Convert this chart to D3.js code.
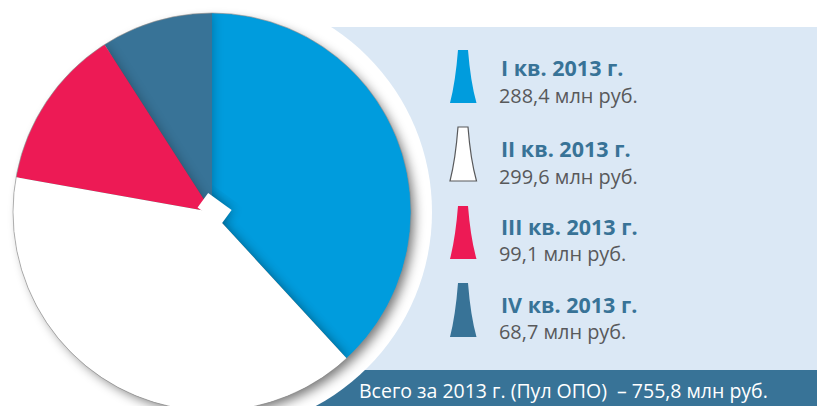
<!DOCTYPE html>
<html><head><meta charset="utf-8">
<script src="https://cdn.jsdelivr.net/npm/d3@7"></script>
<style>html,body{margin:0;padding:0;background:#fff}svg{display:block}text{font-family:"Open Sans",sans-serif}</style>
</head><body><div id="c"></div>
<script>
const quarters=["I кв. 2013 г.","II кв. 2013 г.","III кв. 2013 г.","IV кв. 2013 г."];
const values=[288.4,299.6,99.1,68.7];
const valueLabels=["288,4 млн руб.","299,6 млн руб.","99,1 млн руб.","68,7 млн руб."];
const colors=["#009cdd","#ffffff","#ed1a55","#387397"];
const totalLabel="Всего за 2013 г. (Пул ОПО)  – 755,8 млн руб.";

const W=817,H=406,cx=212,cy=212,R=199;
const svg=d3.select("#c").append("svg").attr("width",W).attr("height",H);
const defs=svg.append("defs");
const f=defs.append("filter").attr("id","blur").attr("x","-30%").attr("y","-30%").attr("width","160%").attr("height","160%");
f.append("feGaussianBlur").attr("stdDeviation",6);
const sb=defs.append("filter").attr("id","soft").attr("x","-50%").attr("y","-50%").attr("width","200%").attr("height","200%");
sb.append("feGaussianBlur").attr("stdDeviation",6);
defs.append("clipPath").attr("id","disc").append("circle").attr("cx",cx).attr("cy",cy).attr("r",R);
const ring=defs.append("clipPath").attr("id","ringClip");
ring.append("circle").attr("cx",cx).attr("cy",cy).attr("r",220);

// panel and band
svg.append("rect").attr("x",320).attr("y",27).attr("width",W-320).attr("height",343).attr("fill","#dbe8f5");
svg.append("rect").attr("x",300).attr("y",370).attr("width",W-300).attr("height",36).attr("fill","#387397");
svg.append("circle").attr("cx",cx).attr("cy",cy).attr("r",220).attr("fill","#fff");
svg.append("g").attr("clip-path","url(#ringClip)")
  .append("circle").attr("cx",cx+5).attr("cy",cy+5).attr("r",R-2).attr("fill","#000").attr("opacity",0.55).attr("filter","url(#blur)");

// pie
const arcs=d3.pie().sort(null).value(d=>d)(values);
const arc=d3.arc().innerRadius(0).outerRadius(R);
const pie=svg.append("g").attr("clip-path","url(#disc)").append("g").attr("transform",`translate(${cx},${cy})`);
const notch=g=>g.append("rect").attr("x",-15).attr("y",-9).attr("width",29).attr("height",18).attr("transform","translate(3,-3) rotate(36)");
const shadow=(i,o)=>pie.append("path").attr("d",arc(arcs[i])).attr("fill","#000").attr("opacity",o).attr("filter","url(#soft)");
pie.append("path").attr("d",arc(arcs[0])).attr("fill",colors[0]);
shadow(3,0.28);
shadow(1,0.42);
notch(pie).attr("fill","#000").attr("opacity",0.4).attr("filter","url(#soft)");
pie.append("path").attr("d",arc(arcs[3])).attr("fill",colors[3]);
shadow(2,0.3);
pie.append("path").attr("d",arc(arcs[2])).attr("fill",colors[2]);
pie.append("path").attr("d",arc(arcs[1])).attr("fill",colors[1]);
notch(pie).attr("fill","#fff");
svg.append("circle").attr("cx",cx).attr("cy",cy).attr("r",R).attr("fill","none").attr("stroke","#8f8f8f").attr("stroke-width",0.8).attr("opacity",0.8);

// legend
const rows=[[450,50,103,76,103],[450,127,181,157,184],[450,206,259,235,261],[450,283,337,313,339]];
const taper=(x,t,b)=>{
  const p=d3.path();
  p.moveTo(x+8,t);p.lineTo(x+18,t);
  p.quadraticCurveTo(x+20.5,t+(b-t)*.6,x+26.5,b);
  p.lineTo(x,b);
  p.quadraticCurveTo(x+5.5,t+(b-t)*.6,x+8,t);
  p.closePath();return p.toString();
};
rows.forEach((r,i)=>{
  svg.append("path").attr("d",taper(r[0],r[1],r[2])).attr("fill",colors[i])
    .attr("stroke",i===1?"#58595b":"none").attr("stroke-width",1.2);
  svg.append("text").attr("x",501).attr("y",r[3]).attr("font-size",21.5).attr("font-weight",700).attr("fill","#387397").text(quarters[i]);
  svg.append("text").attr("x",499).attr("y",r[4]).attr("font-size",19.9).attr("fill","#58595b").text(valueLabels[i]);
});
svg.append("text").attr("x",359).attr("y",398).attr("font-size",19.5).attr("fill","#fff").style("white-space","pre").text(totalLabel);
</script></body></html>
